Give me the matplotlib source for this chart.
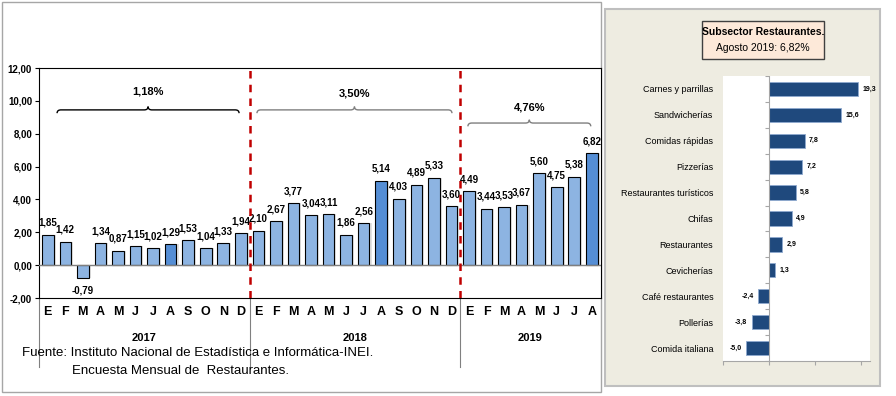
import matplotlib.pyplot as plt
import numpy as np
from matplotlib.patches import Rectangle, PathPatch
from matplotlib.path import Path
import matplotlib.transforms as mtransforms

plt.rcParams['font.family'] = ['Liberation Sans Narrow', 'Liberation Sans', 'DejaVu Sans']

# --- datos: variacion mensual interanual del subsector restaurantes ---
anios = ["2017", "2018", "2019"]
meses = ["E", "F", "M", "A", "M", "J", "J", "A", "S", "O", "N", "D"]
valores_2017 = [1.85, 1.42, -0.79, 1.34, 0.87, 1.15, 1.02, 1.29, 1.53, 1.04, 1.33, 1.94]
valores_2018 = [2.10, 2.67, 3.77, 3.04, 3.11, 1.86, 2.56, 5.14, 4.03, 4.89, 5.33, 3.60]
valores_2019 = [4.49, 3.44, 3.53, 3.67, 5.60, 4.75, 5.38, 6.82]
promedio_anual = ["1,18%", "3,50%", "4,76%"]
destacados = [7, 19, 31]  # agosto de cada anio

# --- datos: actividades, agosto 2019 ---
actividades = ["Carnes y parrillas", "Sandwicherías", "Comidas rápidas", "Pizzerías",
               "Restaurantes turísticos", "Chifas", "Restaurantes", "Cevicherías",
               "Café restaurantes", "Pollerías", "Comida italiana"]
var_actividades = [19.3, 15.6, 7.8, 7.2, 5.8, 4.9, 2.9, 1.3, -2.4, -3.8, -5.0]

series = [valores_2017, valores_2018, valores_2019]
valores = valores_2017 + valores_2018 + valores_2019
etiquetas_mes = meses * 2 + meses[:len(valores_2019)]
x = np.arange(len(valores))


def coma(v, dec):
    return f"{v:.{dec}f}".replace(".", ",")


def llave(ax, x0, x1, yb, color):
    xm = (x0 + x1) / 2
    dx, dy = 0.22, 0.2
    verts = [(x0, yb - dy), (x0, yb), (x0 + dx, yb),
             (xm - dx, yb), (xm, yb), (xm, yb + dy), (xm, yb), (xm + dx, yb),
             (x1 - dx, yb), (x1, yb), (x1, yb - dy)]
    codes = [Path.MOVETO, Path.CURVE3, Path.CURVE3,
             Path.LINETO, Path.CURVE3, Path.CURVE3, Path.CURVE3, Path.CURVE3,
             Path.LINETO, Path.CURVE3, Path.CURVE3]
    ax.add_patch(PathPatch(Path(verts, codes), fill=False, edgecolor=color, lw=1.0))


fig = plt.figure(figsize=(8.96, 3.96), dpi=100)
W, H = 896, 396


def fig_rect(x0, y0, x1, y1, **kw):
    fig.patches.append(Rectangle((x0 / W, 1 - y1 / H), (x1 - x0) / W, (y1 - y0) / H,
                                 transform=fig.transFigure, **kw))


# marcos de fondo
fig_rect(2, 2, 601, 392, facecolor="white", edgecolor="#A6A6A6", lw=1.0, zorder=-2)
fig_rect(605, 9, 880, 386, facecolor="#EEECE1", edgecolor="#BFBFBF", lw=1.5, zorder=-2)

# ---------------- grafico izquierdo ----------------
ax = fig.add_axes([39 / W, 1 - 298 / H, 561.6 / W, 230 / H])
colores = ["#558ED5" if i in destacados else "#8DB4E2" for i in x]
ax.bar(x + 0.12, valores, width=0.66, color="#D0D0D0", alpha=0.6, zorder=1)
ax.bar(x, valores, width=0.66, color=colores, edgecolor="black", lw=0.8, zorder=2)
for xi, v in zip(x, valores):
    ax.annotate(coma(v, 2), (xi, v), xytext=(0, 5 if v >= 0 else -5), textcoords="offset points",
                ha="center", va="bottom" if v >= 0 else "top", fontsize=7, fontweight="bold")

ax.set_xlim(-0.5, len(valores) - 0.5)
ax.set_ylim(-2, 12)
ax.set_yticks(np.arange(-2, 13, 2))
ax.set_yticklabels([coma(t, 2) for t in np.arange(-2, 13, 2)], fontsize=7, fontweight="bold")
ax.tick_params(axis="y", length=3, width=0.8, pad=2)
ax.axhline(0, color="#7F7F7F", lw=1.0, zorder=3)
for s in ax.spines.values():
    s.set_linewidth(0.8)

ax.set_xticks(x)
ax.set_xticklabels(etiquetas_mes, fontsize=9, fontweight="bold")
ax.tick_params(axis="x", length=0, pad=6)

trans = mtransforms.blended_transform_factory(ax.transData, ax.transAxes)
inicio = 0
for k, serie in enumerate(series):
    fin = inicio + len(serie)
    ax.plot([inicio - 0.5, inicio - 0.5], [0, -0.3], transform=trans, color="#808080",
            lw=0.8, clip_on=False)
    ax.text((inicio + fin - 1) / 2, -0.175, anios[k], transform=trans, ha="center",
            va="center", fontsize=8, fontweight="bold")
    if k > 0:
        ax.axvline(inicio - 0.5, color="#C00000", lw=1.8, ls=(0, (3, 2.5)), zorder=4)
    inicio = fin

llave(ax, 0.53, 10.9, 9.45, "black")
ax.text(5.7, 10.55, promedio_anual[0], ha="center", va="center", fontsize=8, fontweight="bold")
llave(ax, 11.92, 23.03, 9.45, "#7F7F7F")
ax.text(17.5, 10.45, promedio_anual[1], ha="center", va="center", fontsize=8, fontweight="bold")
llave(ax, 23.94, 30.94, 8.65, "#7F7F7F")
ax.text(27.45, 9.6, promedio_anual[2], ha="center", va="center", fontsize=8, fontweight="bold")

fig.text(22 / W, 1 - 353 / H, "Fuente: Instituto Nacional de Estadística e Informática-INEI.",
         fontsize=9.5, va="center")
fig.text(72 / W, 1 - 371 / H, "Encuesta Mensual de  Restaurantes.", fontsize=9.5, va="center")

# ---------------- grafico derecho ----------------
fig_rect(702, 21, 824, 59, facecolor="#FDE9D9", edgecolor="#404040", lw=1.0, zorder=1)
fig.text(763 / W, 1 - 32 / H, "Subsector Restaurantes.", ha="center", va="center",
         fontsize=7.5, fontweight="bold")
fig.text(763 / W, 1 - 48 / H, "Agosto 2019: " + coma(valores_2019[-1], 2) + "%", ha="center",
         va="center", fontsize=7.5)

ax2 = fig.add_axes([723 / W, 1 - 361 / H, 147 / W, 285 / H])
y = np.arange(len(actividades))
ax2.barh(y, var_actividades, height=0.55, color="#1F497D", edgecolor="#8EA9CF", lw=0.6, zorder=2)
for yi, v in zip(y, var_actividades):
    ax2.annotate(coma(v, 1), (v, yi), xytext=(3 if v >= 0 else -3, 0), textcoords="offset points",
                 ha="left" if v >= 0 else "right", va="center", fontsize=5, fontweight="bold")
ax2.set_ylim(len(actividades) - 0.5, -0.5)
ax2.set_xlim(-10, 21.9)
ax2.set_yticks(y)
ax2.set_yticklabels(actividades, fontsize=6.5)
ax2.tick_params(axis="y", length=0, pad=7)
ax2.set_xticks([-10, 0, 10, 20])
ax2.set_xticklabels([])
ax2.tick_params(axis="x", length=3, color="#A6A6A6", direction="out")
ax2.axvline(0, color="#A6A6A6", lw=0.8, zorder=3)
ax2.hlines(np.arange(-0.5, len(actividades)), -0.8, 0, color="#A6A6A6", lw=0.8, zorder=3)
for lado in ["top", "right", "left"]:
    ax2.spines[lado].set_visible(False)
ax2.spines["bottom"].set_color("#A6A6A6")

fig.savefig("out.png", dpi=100, facecolor="white")
